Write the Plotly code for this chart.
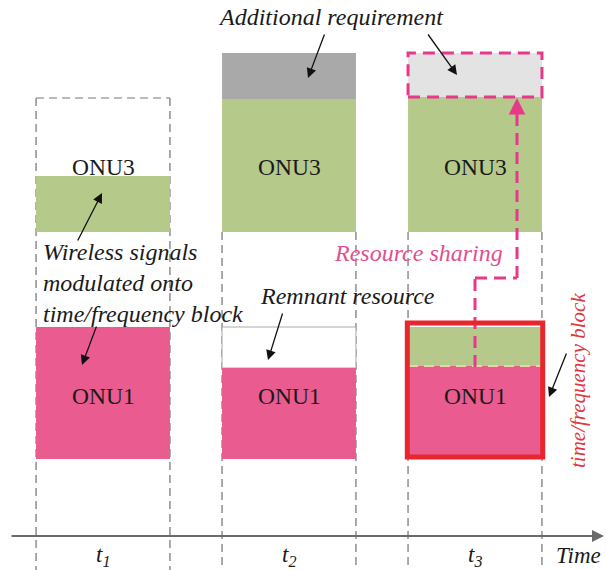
import plotly.graph_objects as go

W, H = 606, 570

# ---- data (resource levels per time slot, measured up from the time axis) ----
slot_labels = ["t<sub>1</sub>", "t<sub>2</sub>", "t<sub>3</sub>"]
slot_idx = [0, 1, 2]
onu1_floor = [77, 77, 77]
onu1_top = [209, 168, 170]          # ONU1 occupied resource
onu1_capacity_top = [209, 209, 209]  # time/frequency block of ONU1
onu3_floor = [304, 304, 304]
onu3_top = [360, 437, 439]          # ONU3 occupied resource
extra_top = [None, 483, 483]        # additional requirement
t1_block_top = 438                  # dashed time/frequency block of slot t1

FONT = "Liberation Serif, Times New Roman, serif"
GREEN = "#b5c98a"
PINK = "#ea5b8f"
DGRAY = "#a9a9a9"
LGRAY = "#e3e3e3"
PDASH = "#e8388a"
RED = "#e8262e"
HALF = 0.36

def px(x):
    return x / W

def py(y):
    return 1 - y / H

fig = go.Figure()
fig.add_trace(go.Scatter(x=[None], y=[None], showlegend=False))

shapes = []
ann = []

# dashed slot boundaries
for i in slot_idx:
    top = t1_block_top if i == 0 else onu3_floor[i]
    for xe in (i - HALF, i + HALF):
        shapes.append(dict(type="line", xref="x", yref="y", x0=xe, x1=xe, y0=top, y1=-40,
                           line=dict(color="#555555", width=1, dash="8px,5px"), layer="below"))
shapes.append(dict(type="line", xref="x", yref="y", x0=-HALF, x1=HALF, y0=t1_block_top, y1=t1_block_top,
                   line=dict(color="#777777", width=1, dash="8px,5px"), layer="below"))

for i in slot_idx:
    x0, x1 = i - HALF, i + HALF
    # ONU3
    shapes.append(dict(type="rect", xref="x", yref="y", x0=x0, x1=x1, y0=onu3_floor[i], y1=onu3_top[i],
                       fillcolor=GREEN, line=dict(width=0), layer="above"))
    # additional requirement
    if extra_top[i] is not None:
        if i == 1:
            shapes.append(dict(type="rect", xref="x", yref="y", x0=x0, x1=x1, y0=onu3_top[i], y1=extra_top[i],
                               fillcolor=DGRAY, line=dict(width=0)))
        else:
            shapes.append(dict(type="rect", xref="x", yref="y", x0=x0, x1=x1, y0=onu3_top[i], y1=extra_top[i],
                               fillcolor=LGRAY, line=dict(color=PDASH, width=3, dash="12px,7px")))
    # remnant / shared area of ONU1 block
    if onu1_top[i] < onu1_capacity_top[i]:
        if i == 1:
            shapes.append(dict(type="rect", xref="x", yref="y", x0=x0, x1=x1, y0=onu1_top[i],
                               y1=onu1_capacity_top[i], fillcolor="white", line=dict(color="#aaaaaa", width=1)))
        else:
            shapes.append(dict(type="rect", xref="x", yref="y", x0=x0, x1=x1, y0=onu1_top[i],
                               y1=onu1_capacity_top[i], fillcolor=GREEN, line=dict(width=0)))
    # ONU1
    shapes.append(dict(type="rect", xref="x", yref="y", x0=x0, x1=x1, y0=onu1_floor[i], y1=onu1_top[i],
                       fillcolor=PINK, line=dict(width=0)))

# boundary between shared part and ONU1 in t3
shapes.append(dict(type="line", xref="x", yref="y", x0=2 - HALF, x1=2 + HALF, y0=onu1_top[2], y1=onu1_top[2],
                   line=dict(color="#e6d7a8", width=2, dash="10px,6px")))

# resource-sharing path (pink dashed)
shapes.append(dict(type="line", xref="x", yref="paper", x0=2, x1=2, y0=py(367), y1=py(278),
                   line=dict(color=PDASH, width=3, dash="12px,7px")))
shapes.append(dict(type="line", xref="paper", yref="paper", x0=px(475), x1=px(517), y0=py(278), y1=py(278),
                   line=dict(color=PDASH, width=3, dash="12px,7px")))
shapes.append(dict(type="line", xref="paper", yref="paper", x0=px(517), x1=px(517), y0=py(278), y1=py(112),
                   line=dict(color=PDASH, width=3, dash="12px,7px")))
ann.append(dict(xref="paper", yref="paper", x=px(517), y=py(98), ax=0, ay=16, text="", showarrow=True,
                arrowhead=2, arrowsize=1.1, arrowwidth=3, arrowcolor=PDASH))

# red time/frequency block outline in t3
shapes.append(dict(type="rect", xref="x", yref="y", x0=2 - HALF - 0.004, x1=2 + HALF + 0.004,
                   y0=onu1_floor[2] + 2, y1=onu1_capacity_top[2] + 4,
                   fillcolor="rgba(0,0,0,0)", line=dict(color=RED, width=5)))

# time axis
ann.append(dict(xref="paper", yref="y", x=px(604), y=0, ax=-594, ay=0, text="", showarrow=True,
                arrowhead=2, arrowsize=1.2, arrowwidth=2, arrowcolor="#6a6a6a"))

def txt(x, y, s, size=24, color="#1a1a1a", italic=True, xanchor="center", align="center", angle=0,
        xref="paper", yref="paper"):
    if italic:
        s = "<i>" + s + "</i>"
    ann.append(dict(xref=xref, yref=yref, x=x, y=y, text=s, showarrow=False, xanchor=xanchor,
                    yanchor="middle", align=align, textangle=angle,
                    font=dict(family=FONT, size=size, color=color)))

# block labels
for i in slot_idx:
    txt(i, (onu1_floor[i] + onu1_capacity_top[i]) / 2 - 3, "ONU1", italic=False, xref="x", yref="y", size=23.5)
    txt(i, 369, "ONU3", italic=False, xref="x", yref="y", size=23.5)
    txt(i, -20, slot_labels[i], xref="x", yref="y", size=23)

txt(px(578), py(555), "Time", size=23)
txt(px(331), py(17), "Additional requirement")
txt(px(41), py(283), "Wireless signals<br>modulated onto<br>time/frequency block", xanchor="left", align="left")
txt(px(258), py(296), "Remnant resource", xanchor="left")
txt(px(332), py(253), "Resource sharing", color="#e0508e", xanchor="left")
txt(px(578), py(381), "time/frequency block", color="#e0383c", size=21, angle=-90)

# black pointer arrows
for (tx, ty, hx, hy) in [(325, 33, 308, 78), (427, 33, 457, 75), (77, 242, 102, 193),
                         (97, 325, 82, 365), (283, 312, 268, 360), (567, 352, 549, 397)]:
    ann.append(dict(xref="paper", yref="paper", x=px(hx), y=py(hy), ax=tx - hx, ay=ty - hy, text="",
                    showarrow=True, arrowhead=2, arrowsize=1.5, arrowwidth=1.3, arrowcolor="#111111"))

fig.update_layout(
    width=W, height=H, margin=dict(l=0, r=0, t=0, b=0),
    paper_bgcolor="white", plot_bgcolor="white",
    xaxis=dict(range=[-0.5538, 2.7043], visible=False, fixedrange=True),
    yaxis=dict(range=[-34, 536], visible=False, fixedrange=True),
    shapes=shapes, annotations=ann, showlegend=False,
)
fig.write_html("out.html", config={"displayModeBar": False},
               post_script="document.body.style.margin='0';")
